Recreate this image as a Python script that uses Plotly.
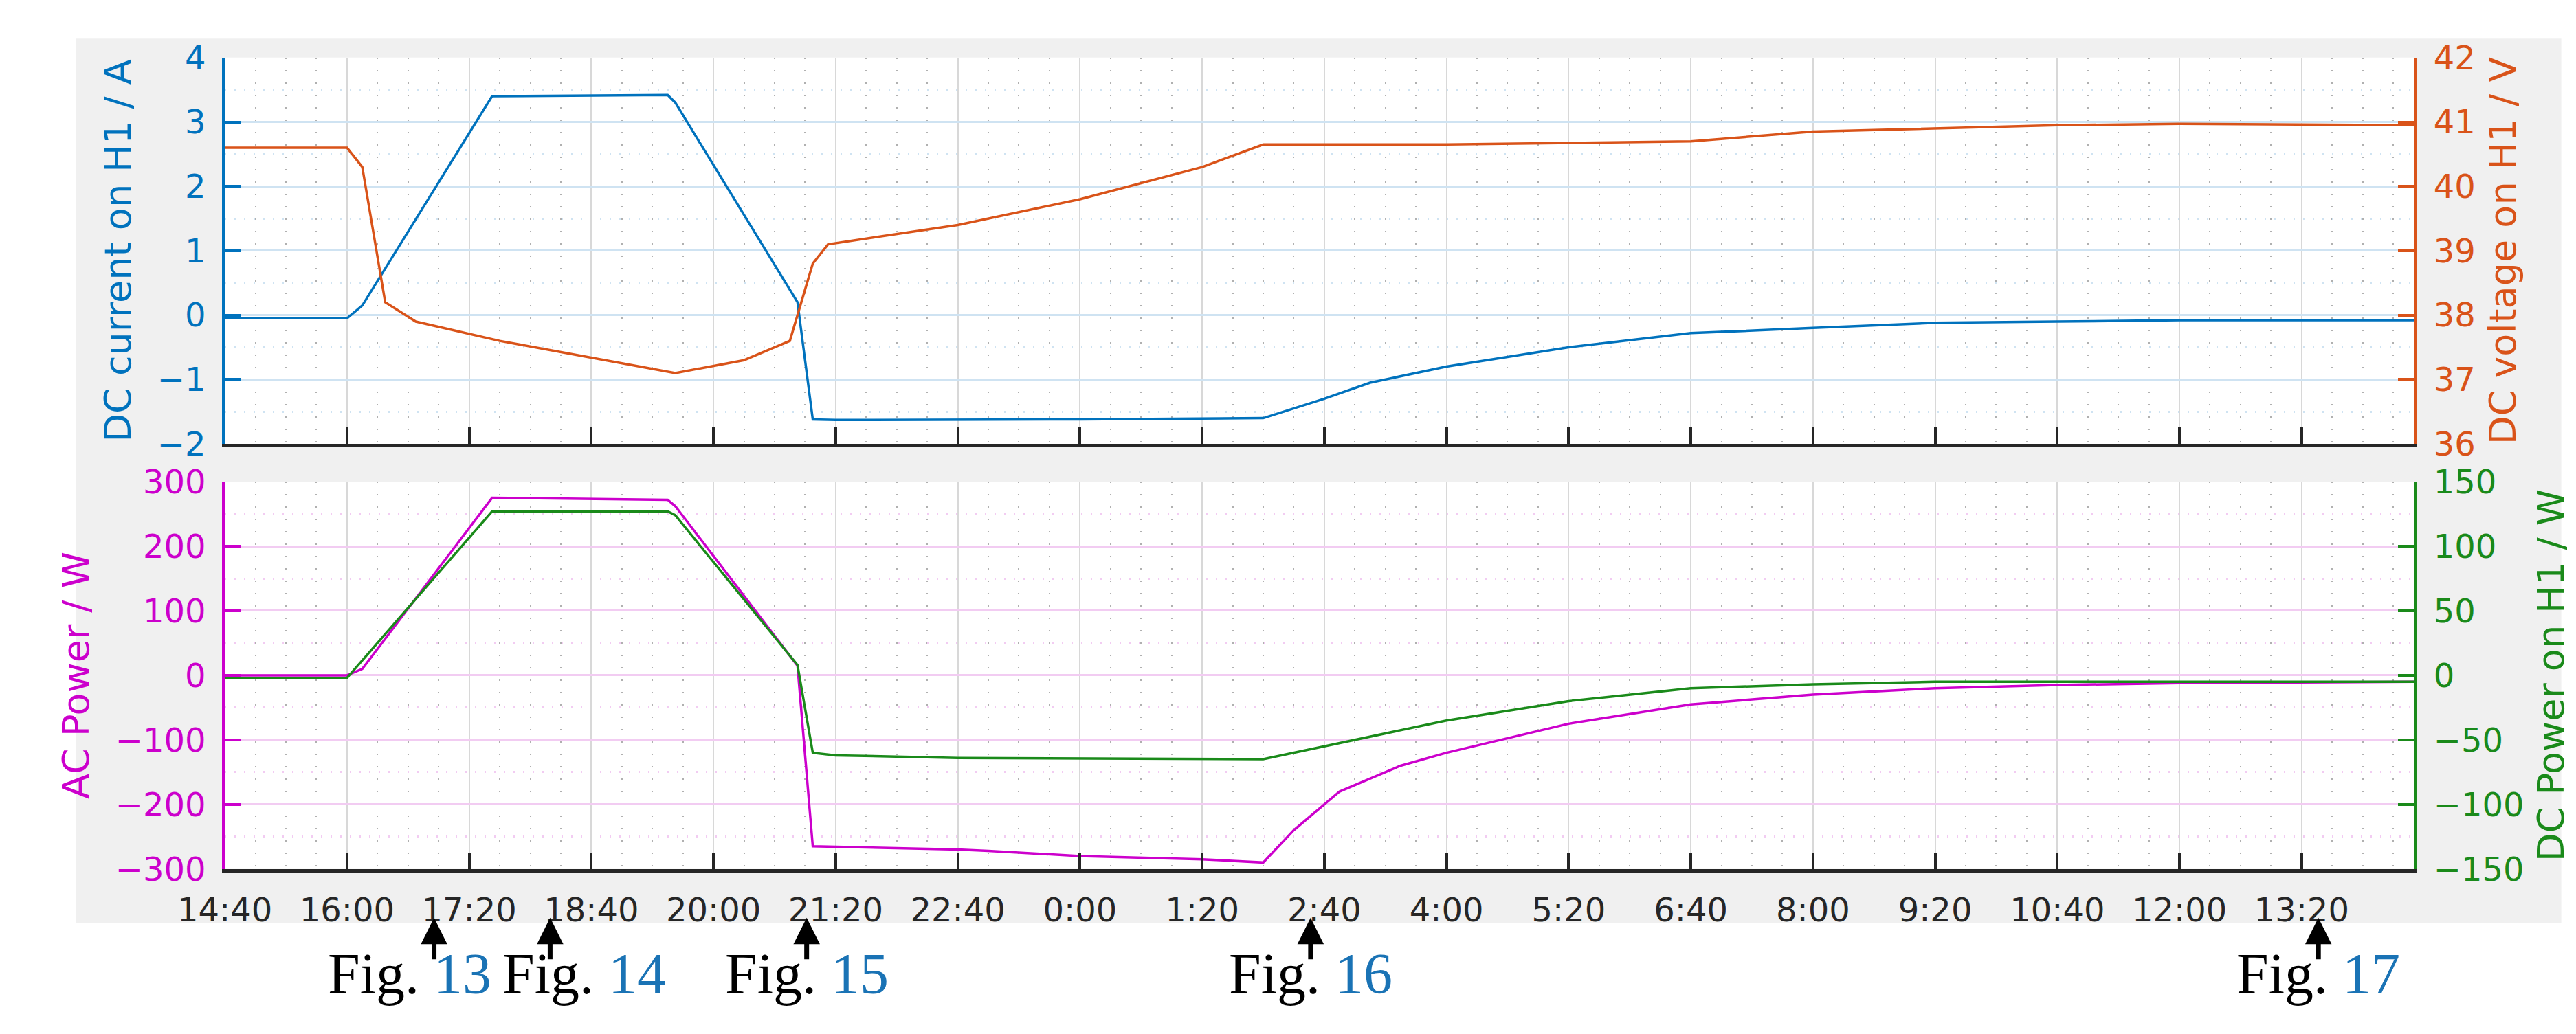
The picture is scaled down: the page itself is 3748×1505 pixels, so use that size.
import datetime as dt
import plotly.graph_objects as go

# --- data (times in HH:MM, rolling over midnight) ---
cur_t = ["14:40", "16:00", "16:10", "17:35", "19:30", "19:35", "20:55", "21:05", "21:20", "0:00",
         "2:00", "2:40", "3:10", "4:00", "5:20", "6:40", "8:00", "9:20", "10:40", "12:00", "14:34"]
cur_v = [-0.05, -0.05, 0.15, 3.4, 3.42, 3.3, 0.2, -1.62, -1.63, -1.62,
         -1.6, -1.3, -1.05, -0.8, -0.5, -0.28, -0.2, -0.12, -0.1, -0.08, -0.08]

volt_t = ["14:40", "16:00", "16:10", "16:25", "16:45", "17:40", "19:35", "20:20", "20:50", "21:05",
          "21:15", "22:40", "0:00", "1:20", "2:00", "4:00", "6:40", "8:00", "10:40", "12:00", "14:34"]
volt_v = [40.6, 40.6, 40.3, 38.2, 37.9, 37.6, 37.1, 37.3, 37.6, 38.8,
          39.1, 39.4, 39.8, 40.3, 40.65, 40.65, 40.7, 40.85, 40.95, 40.97, 40.95]

ac_t = ["14:40", "16:00", "16:10", "17:35", "19:30", "19:35", "20:55", "21:05", "22:40", "23:00",
        "0:00", "1:20", "2:00", "2:20", "2:50", "3:30", "4:00", "5:20", "6:40", "8:00", "9:20",
        "10:40", "12:00", "14:34"]
ac_v = [0, 0, 10, 275, 272, 262, 15, -265, -270, -272,
        -280, -285, -290, -240, -180, -140, -120, -75, -45, -30, -20,
        -15, -12, -10]

dcp_t = ["14:40", "16:00", "17:35", "19:30", "19:35", "20:55", "21:05", "21:20", "22:40", "2:00",
         "2:40", "4:00", "5:20", "6:40", "8:00", "9:20", "14:34"]
dcp_v = [-2, -2, 127, 127, 124, 8, -60, -62, -64, -65,
         -55, -35, -20, -10, -7, -5, -5]

fig_refs = ["13", "14", "15", "16", "17"]
fig_t = ["16:57", "18:13", "21:01", "2:31", "13:31"]
fig_shift = [-36, 50, 0, 0, 0]


def one(s):
    h, m = map(int, s.split(":"))
    return dt.datetime(2020, 1, 1 if h >= 14 else 2, h, m)


def to_dt(times):
    out, day, prev = [], 1, None
    for s in times:
        h, m = map(int, s.split(":"))
        if prev is not None and h < prev:
            day = 2
        prev = h
        out.append(dt.datetime(2020, 1, day, h, m))
    return out


BLUE, ORANGE, MAG, GREEN = "#0072BD", "#D95319", "#CC00CC", "#1A8A1A"
x0, x1 = dt.datetime(2020, 1, 1, 14, 40), dt.datetime(2020, 1, 2, 14, 34)

fig = go.Figure()
fig.add_trace(go.Scatter(x=to_dt(cur_t), y=cur_v, mode="lines", line=dict(color=BLUE, width=3.5), xaxis="x", yaxis="y"))
fig.add_trace(go.Scatter(x=to_dt(volt_t), y=volt_v, mode="lines", line=dict(color=ORANGE, width=3.5), xaxis="x", yaxis="y2"))
fig.add_trace(go.Scatter(x=to_dt(ac_t), y=ac_v, mode="lines", line=dict(color=MAG, width=3.5), xaxis="x2", yaxis="y3"))
fig.add_trace(go.Scatter(x=to_dt(dcp_t), y=dcp_v, mode="lines", line=dict(color=GREEN, width=3.5), xaxis="x2", yaxis="y4"))

xd = [0.068, 0.934]
minor_vals = []
t = x0
while t <= x1:
    minor_vals.append(t)
    t += dt.timedelta(minutes=20)

xcommon = dict(type="date", range=[x0, x1], domain=xd, tick0=x0, dtick=80 * 60 * 1000,
               tickformat="%-H:%M", showgrid=True, gridcolor="#D8D8D8", gridwidth=2,
               ticks="inside", ticklen=24, tickwidth=4, tickcolor="#262626",
               showline=True, linecolor="#262626", linewidth=5, zeroline=False,
               minor=dict(tickmode="array", tickvals=minor_vals, showgrid=True, gridcolor="#B0B0B0",
                          griddash="2px,16px", gridwidth=2, ticks=""),
               ticklabelstandoff=14,
               tickfont=dict(family="DejaVu Sans", size=48, color="#262626"))


def yax(color, grid, rng, dtick, mdtick, title, side, anchor, domain, overlay=None):
    d = dict(range=rng, dtick=dtick, domain=domain, anchor=anchor, side=side,
             tickfont=dict(family="DejaVu Sans", size=48, color=color), ticklabelstandoff=14,
             title=dict(text=title, font=dict(family="DejaVu Sans", size=54, color=color), standoff=22),
             showline=True, linecolor=color, linewidth=4, ticks="inside", ticklen=24, tickcolor=color,
             tickwidth=4, zeroline=False, fixedrange=True)
    if overlay:
        d.update(overlaying=overlay, showgrid=False)
    else:
        d.update(showgrid=True, gridcolor=grid, gridwidth=3,
                 minor=dict(dtick=mdtick, showgrid=True, gridcolor=grid, griddash="2px,12px", gridwidth=3))
    return d


yd_top, yd_bot = [0.579, 0.967], [0.152, 0.541]
fig.update_layout(
    width=3748, height=1505, showlegend=False,
    paper_bgcolor="white", plot_bgcolor="white",
    margin=dict(l=0, r=0, t=0, b=0),
    xaxis=dict(xcommon, anchor="y", showticklabels=False),
    xaxis2=dict(xcommon, anchor="y3"),
    yaxis=yax(BLUE, "#CFE3F2", [-2, 4], 1, 0.5, "DC current on H1 / A", "left", "x", yd_top),
    yaxis2=yax(ORANGE, None, [36, 42], 1, None, "DC voltage on H1 / V", "right", "x", yd_top, overlay="y"),
    yaxis3=yax(MAG, "#F2CCF2", [-300, 300], 100, 50, "AC Power / W", "left", "x2", yd_bot),
    yaxis4=yax(GREEN, None, [-150, 150], 50, None, "DC Power on H1 / W", "right", "x2", yd_bot, overlay="y3"),
    shapes=[
        dict(type="rect", xref="paper", yref="paper", x0=0.009, x1=0.992, y0=0.098, y1=0.986,
             fillcolor="#F0F0F0", line=dict(width=0), layer="below"),
        dict(type="rect", xref="paper", yref="paper", x0=xd[0], x1=xd[1], y0=yd_top[0], y1=yd_top[1],
             fillcolor="white", line=dict(width=0), layer="below"),
        dict(type="rect", xref="paper", yref="paper", x0=xd[0], x1=xd[1], y0=yd_bot[0], y1=yd_bot[1],
             fillcolor="white", line=dict(width=0), layer="below"),
    ],
)

for ref, t, sh in zip(fig_refs, fig_t, fig_shift):
    fig.add_annotation(x=one(t), y=0.0465, xref="x2", yref="paper", yanchor="middle",
                       text="Fig. <span style='color:#1A73B5'>" + ref + "</span>",
                       font=dict(family="Liberation Serif", size=84, color="black"),
                       showarrow=False, xshift=sh)
    fig.add_annotation(x=one(t), y=0.103, xref="x2", yref="paper", ax=0, ay=62,
                       showarrow=True, arrowhead=2, arrowsize=1.1, arrowwidth=7, arrowcolor="black", text="")

fig.write_html("out.html")
